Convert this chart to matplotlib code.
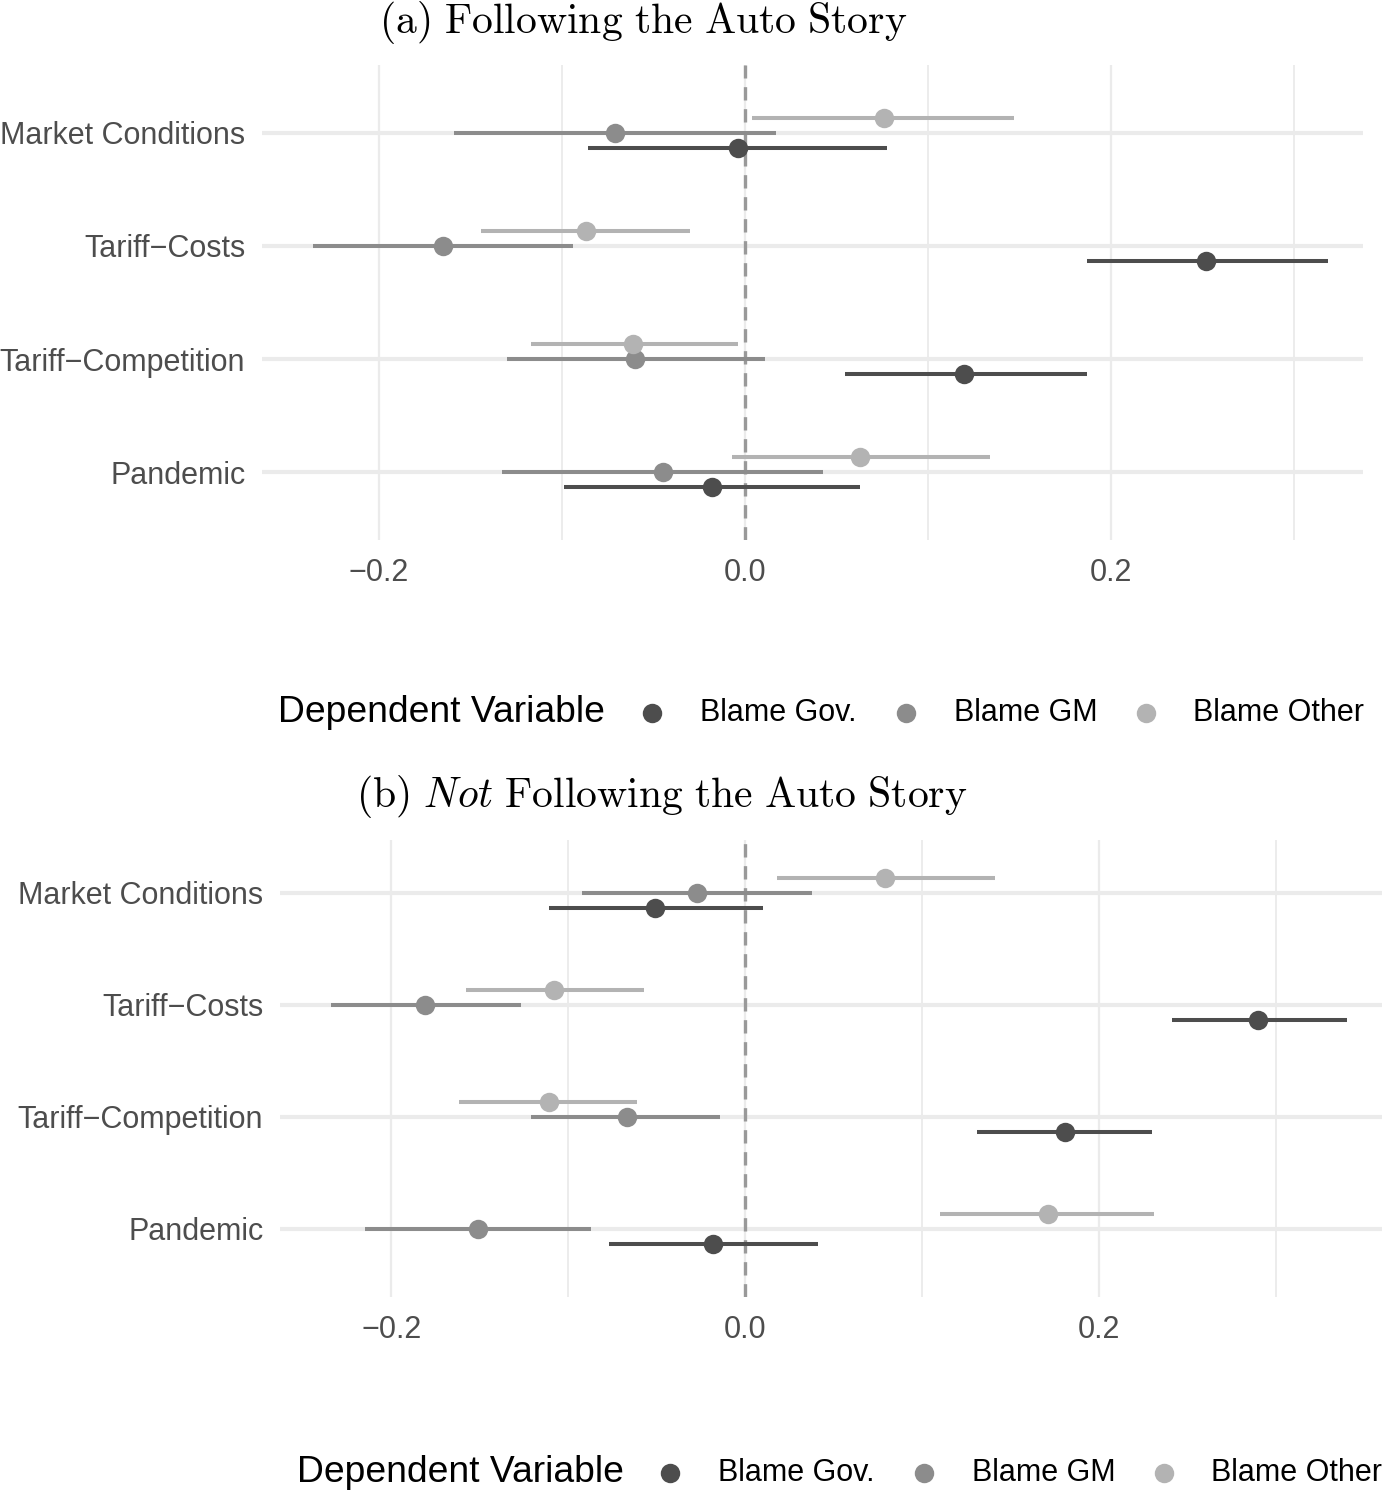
import matplotlib
matplotlib.use("Agg")
import matplotlib.pyplot as plt
from matplotlib.lines import Line2D
import numpy as np

plt.rcParams['font.family'] = ['Liberation Sans', 'DejaVu Sans']
plt.rcParams['mathtext.fontset'] = 'cm'

categories = ["Market Conditions", "Tariff\u2212Costs", "Tariff\u2212Competition", "Pandemic"]
series = ["Blame Gov.", "Blame GM", "Blame Other"]
colors = ["#4D4D4D", "#8C8C8C", "#B3B3B3"]
x_ticks = [-0.2, 0.0, 0.2]
x_tick_labels = ["\u22120.2", "0.0", "0.2"]

# Panel (a): Following the Auto Story  (order of categories as above)
a_gov_est = [-0.004, 0.252, 0.120, -0.018]
a_gov_lo = [-0.086, 0.187, 0.055, -0.099]
a_gov_hi = [0.078, 0.319, 0.187, 0.063]
a_gm_est = [-0.071, -0.165, -0.060, -0.045]
a_gm_lo = [-0.159, -0.236, -0.130, -0.133]
a_gm_hi = [0.017, -0.094, 0.011, 0.043]
a_oth_est = [0.076, -0.087, -0.061, 0.063]
a_oth_lo = [0.004, -0.144, -0.117, -0.007]
a_oth_hi = [0.147, -0.030, -0.004, 0.134]

# Panel (b): Not Following the Auto Story
b_gov_est = [-0.051, 0.290, 0.181, -0.018]
b_gov_lo = [-0.111, 0.241, 0.131, -0.077]
b_gov_hi = [0.010, 0.340, 0.230, 0.041]
b_gm_est = [-0.027, -0.181, -0.067, -0.151]
b_gm_lo = [-0.092, -0.234, -0.121, -0.215]
b_gm_hi = [0.038, -0.127, -0.014, -0.087]
b_oth_est = [0.079, -0.108, -0.111, 0.171]
b_oth_lo = [0.018, -0.158, -0.162, 0.110]
b_oth_hi = [0.141, -0.057, -0.061, 0.231]

W, H = 1382, 1492
fig = plt.figure(figsize=(W / 100, H / 100), dpi=100)


def fx(px):
    return px / W


def fy(py):
    return 1 - py / H


def panel(rect, ests, los, his, xlim, ylim, title, title_xy, legend_y, legend_x):
    ax = fig.add_axes(rect)
    ypos = np.arange(len(categories), 0, -1)  # Market at top
    offsets = [-0.134, 0.0, 0.134]  # Gov bottom, GM middle, Other top
    ax.axvline(0, color="#999999", lw=2.4, ls=(0, (4, 2.6)), zorder=2)
    for k in range(3):
        y = ypos + offsets[k]
        ax.hlines(y, los[k], his[k], color=colors[k], lw=2.9, zorder=3)
        ax.plot(ests[k], y, 'o', color=colors[k], ms=14, mec='none', zorder=4)
    ax.set_xlim(*xlim)
    ax.set_ylim(*ylim)
    ax.set_xticks(x_ticks)
    ax.set_xticklabels(x_tick_labels)
    ax.set_xticks([-0.1, 0.1, 0.3], minor=True)
    ax.set_yticks(ypos)
    ax.set_yticklabels(categories)
    for s in ax.spines.values():
        s.set_visible(False)
    ax.tick_params(axis='both', which='both', length=0, labelsize=22, labelcolor="#4D4D4D")
    ax.tick_params(axis='x', pad=13)
    ax.tick_params(axis='y', pad=12)
    ax.grid(axis='x', which='major', color="#EBEBEB", lw=1.6, zorder=0)
    ax.grid(axis='x', which='minor', color="#EBEBEB", lw=1.3, zorder=0)
    ax.grid(axis='y', which='major', color="#EBEBEB", lw=3.0, zorder=0)
    ax.set_axisbelow(True)
    fig.text(fx(title_xy[0]), fy(title_xy[1]), title, ha='center', va='center', fontsize=30)
    # legend
    fig.text(fx(legend_x[0]), fy(legend_y), "Dependent Variable", ha='left', va='center', fontsize=26.8, color='black')
    for k in range(3):
        fig.add_artist(Line2D([fx(legend_x[1 + 2 * k])], [fy(legend_y)], marker='o', ms=14,
                              color=colors[k], mec='none', transform=fig.transFigure))
        fig.text(fx(legend_x[2 + 2 * k]), fy(legend_y), series[k], ha='left', va='center',
                 fontsize=22, color='black')
    return ax


panel([fx(262), fy(540), fx(1363) - fx(262), fy(65) - fy(540)],
      [a_gov_est, a_gm_est, a_oth_est], [a_gov_lo, a_gm_lo, a_oth_lo], [a_gov_hi, a_gm_hi, a_oth_hi],
      (-0.264, 0.338), (0.4, 4.6),
      r"$\mathrm{(a)\ Following\ the\ Auto\ Story}$", (643, 23), 713,
      [278, 652, 700, 906, 954, 1146, 1193])

panel([fx(280), fy(1297), fx(1382) - fx(280), fy(840) - fy(1297)],
      [b_gov_est, b_gm_est, b_oth_est], [b_gov_lo, b_gm_lo, b_oth_lo], [b_gov_hi, b_gm_hi, b_oth_hi],
      (-0.263, 0.360), (0.39, 4.47),
      r"$\mathrm{(b)}\ \mathit{Not}\ \mathrm{Following\ the\ Auto\ Story}$", (662, 797), 1473,
      [297, 670, 718, 924, 972, 1164, 1211])

fig.savefig("out.png", dpi=100, facecolor='white')
